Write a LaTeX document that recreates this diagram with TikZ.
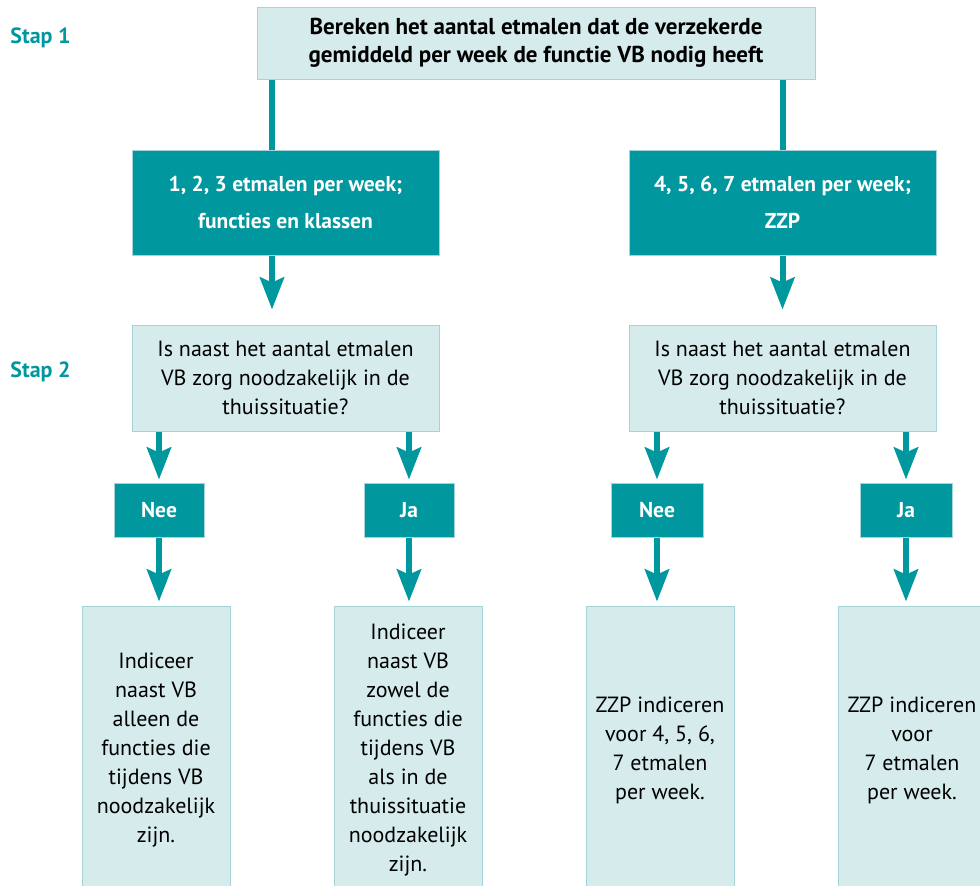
\documentclass[tikz,border=0pt]{standalone}
\usepackage{fontspec}
\setmainfont{PT Sans}
\usetikzlibrary{arrows.meta}
\definecolor{stapteal}{RGB}{0,151,158}
\definecolor{stapfill}{RGB}{214,235,236}
\definecolor{stapline}{RGB}{165,212,216}

\begin{document}
\begin{tikzpicture}[x=1pt, y=-1pt,
    lightbox/.style={draw=stapline, fill=stapfill, line width=1pt, align=center, inner sep=0pt, font=\fontsize{22}{29}\selectfont},
    darkbox/.style={draw=stapline, fill=stapteal, text=white, line width=1pt, align=center, inner sep=0pt, font=\bfseries\fontsize{21.5}{37}\selectfont},
    steplabel/.style={text=stapteal, font=\bfseries\fontsize{22}{24}\selectfont},
    flow/.style={draw=stapteal, line width=6pt},
    flowarrow/.style={flow, -{Stealth[length=32pt, width=24pt, inset=5pt]}}]
    \useasboundingbox (0,0) rectangle (980,886);

    % Step labels
    \node (stap1) at (40.5,38)  [steplabel] {Stap 1};
    \node (stap2) at (40.5,372) [steplabel] {Stap 2};

    % Step 1
    \node (top) at (536,43) [lightbox, minimum width=558pt, minimum height=72pt, font=\bfseries\fontsize{23}{28}\selectfont]
        {Bereken het aantal etmalen dat de verzekerde\\gemiddeld per week de functie VB nodig heeft};
    \node (low)  at (285.5,202.5) [darkbox, minimum width=307pt, minimum height=105pt] {1, 2, 3 etmalen per week;\\functies en klassen};
    \node (high) at (782.5,202.5) [darkbox, minimum width=307pt, minimum height=105pt] {4, 5, 6, 7 etmalen per week;\\ZZP};

    \draw[flow] ([xshift=-13.5pt]low.north |- top.south) -- ([xshift=-13.5pt]low.north);
    \draw[flow] (high.north |- top.south) -- (high.north);

    % Step 2
    \node (qlow)  at (285.5,378) [lightbox, minimum width=307pt, minimum height=106pt] {Is naast het aantal etmalen\\VB zorg noodzakelijk in de\\thuissituatie?};
    \node (qhigh) at (782.5,378) [lightbox, minimum width=307pt, minimum height=106pt] {Is naast het aantal etmalen\\VB zorg noodzakelijk in de\\thuissituatie?};

    \draw[flowarrow, shorten >=15pt] ([xshift=-13.5pt]low.south) -- ([xshift=-13.5pt]qlow.north);
    \draw[flowarrow, shorten >=15pt] (high.south) -- (qhigh.north);

    % Answers
    \node (neelow)  at (159,510) [darkbox, minimum width=90pt, minimum height=54pt] {Nee};
    \node (jalow)   at (409,510) [darkbox, minimum width=90pt, minimum height=54pt] {Ja};
    \node (neehigh) at (657,510) [darkbox, minimum width=92pt, minimum height=54pt] {Nee};
    \node (jahigh)  at (906,510) [darkbox, minimum width=92pt, minimum height=54pt] {Ja};

    \draw[flowarrow, shorten >=3pt] (neelow.north |- qlow.south) -- (neelow.north);
    \draw[flowarrow, shorten >=3pt] (jalow.north |- qlow.south) -- (jalow.north);
    \draw[flowarrow, shorten >=3pt] (neehigh.north |- qhigh.south) -- (neehigh.north);
    \draw[flowarrow, shorten >=3pt] (jahigh.north |- qhigh.south) -- (jahigh.north);

    % Outcomes
    \node (outa) at (156,750) [lightbox, minimum width=148pt, minimum height=288pt]
        {Indiceer\\naast VB\\alleen de\\functies die\\tijdens VB\\noodzakelijk\\zijn.};
    \node (outb) at (408,750) [lightbox, minimum width=148pt, minimum height=288pt]
        {Indiceer\\naast VB\\zowel de\\functies die\\tijdens VB\\als in de\\thuissituatie\\noodzakelijk\\zijn.};
    \node (outc) at (660,750) [lightbox, minimum width=148pt, minimum height=288pt]
        {ZZP indiceren\\voor 4, 5, 6,\\7 etmalen\\per week.};
    \node (outd) at (912,750) [lightbox, minimum width=148pt, minimum height=288pt]
        {ZZP indiceren\\voor\\7 etmalen\\per week.};

    \draw[flowarrow, shorten >=4pt] (neelow.south) -- (neelow.south |- outa.north);
    \draw[flowarrow, shorten >=4pt] (jalow.south) -- (jalow.south |- outb.north);
    \draw[flowarrow, shorten >=4pt] (neehigh.south) -- (neehigh.south |- outc.north);
    \draw[flowarrow, shorten >=4pt] (jahigh.south) -- (jahigh.south |- outd.north);

\end{tikzpicture}
\end{document}
